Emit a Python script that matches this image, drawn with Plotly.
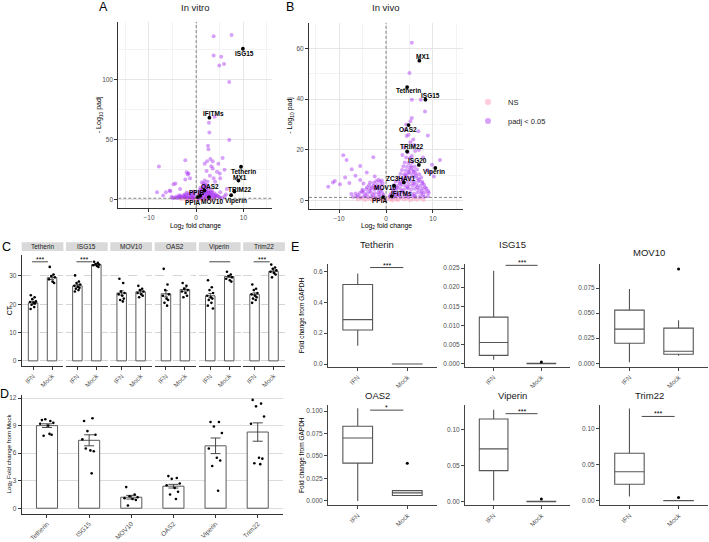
import plotly.graph_objects as go

W, H = 709, 542
FONT = "Liberation Sans, Arial, Helvetica, sans-serif"
TICKC = "#4D4D4D"
LINEC = "#333333"

# ---------------- Panel A (in vitro volcano) ----------------
A_SIG_PTS = [(3.7, 136), (7.5, 137), (3.7, 120), (5.3, 119), (5.9, 113), (4.9, 111.6), (7.0, 98),
             (7.0, 49.8), (2.7, 64), (2.8, 56), (3.9, 69), (2.5, 45), (2.6, 42), (5.6, 34.7), (4.7, 30),
             (3.5, 32), (2.3, 32), (-2.3, 33), (-7.9, 27.8), (-2.0, 23), (-1.8, 21), (-4.8, 13),
             (-8.3, 6.3), (-7.0, 3.6), (-5.6, 7.7), (-3.4, 9.1), (3.0, 34), (4.4, 23.4), (5.1, 18),
             (3.7, 18), (2.9, 20), (2.2, 24), (-1.6, 22), (-1.3, 18), (-2.3, 17), (-4.4, 13.5),
             (-5.5, 7.2), (-6.4, 6.3), (5.1, 6.3), (6.5, 9), (6.3, 4.5), (4.2, 4.5), (6.0, 25),
             (5.0, 22), (4.0, 15), (3.5, 26), (3.2, 28), (1.8, 30),
             (0.4, 2), (0.6, 4), (0.8, 6), (0.7, 8), (1.0, 1.5), (1.1, 3.5), (1.2, 5.5), (1.3, 7.5),
             (1.4, 9.5), (1.5, 11.5), (1.6, 13.5), (1.7, 2.5), (1.8, 4.5), (1.9, 6.5), (2.0, 8.5),
             (2.1, 10.5), (2.2, 12), (2.3, 1.8), (2.4, 3.8), (2.5, 5.8), (2.6, 7.8), (2.7, 9.8),
             (2.9, 2.5), (3.0, 4.5), (3.1, 6.5), (3.3, 8), (3.5, 2), (3.6, 4), (3.8, 5.5), (4.2, 2.5),
             (4.5, 3.5), (5.0, 2), (1.2, 14.5), (1.8, 16), (2.4, 15), (0.9, 10),
             (-0.4, 2), (-0.6, 3.5), (-0.9, 1.8), (-1.2, 3), (-1.5, 4.2), (-1.8, 2.2), (-2.1, 3.5),
             (-2.4, 2), (-2.7, 4), (-3.0, 2.5), (-3.4, 3.2), (-3.8, 2), (-4.2, 2.8), (-4.6, 1.8),
             (-1.0, 5.5), (-2.0, 6), (-0.3, 5), (-5.2, 2.5),
             (0.5, 1.2), (0.9, 2.8), (1.3, 4.2), (1.6, 6), (2.0, 3), (2.3, 5), (2.7, 3.2), (3.2, 3.5),
             (1.1, 8.5), (1.6, 10.5), (2.2, 7), (2.8, 6), (0.6, 5.5), (1.9, 12.5), (3.4, 5.8), (4.0, 3.2),
             (4.8, 2.6), (5.5, 1.8), (6.0, 2.8), (-0.7, 1.3), (-1.3, 1.9), (-1.9, 1.5), (-2.5, 2.8),
             (-3.2, 1.8), (-3.6, 3.8), (-0.8, 4.4), (-1.6, 5.2), (-2.3, 4.6), (-4.0, 1.5), (-5.0, 1.6),
             (-0.5, 7), (1.4, 1.2), (2.6, 1.3), (3.8, 1.5)]
A_NS_PTS = [(-3.2, 0.6), (-2.6, 0.9), (-2.0, 0.3), (-1.6, 0.8), (-1.1, 0.5), (-0.7, 1.0), (-0.3, 0.2),
            (0.2, 0.7), (0.6, 0.4), (1.0, 1.1), (1.4, 0.3), (1.9, 0.8), (2.4, 0.5), (2.9, 1.0),
            (3.3, 0.3), (-0.5, 0.6), (0.4, 1.2), (-1.4, 0.1), (1.2, 0.1)]
A_GENES = ["ISG15", "IFITMs", "Tetherin", "MX1", "TRIM22", "Viperin", "OAS2", "PPIB", "PPIA", "MOV10"]
A_GENE_X = [9.9, 2.8, 9.5, 8.95, 8.1, 7.4, 1.76, 0.85, 0.3, 2.7]
A_GENE_Y = [125.6, 68.3, 27.5, 16.0, 6.9, 3.9, 7.7, 3.3, 2.2, 2.2]
A_LABEL_OFF = [(1.3, 5), (4, -4), (2.7, 4.5), (1.7, -3.4), (6, -2.4), (4.8, 5.4), (5.2, -4.2),
               (-3.3, -3.2), (-5.6, 5.5), (3.5, 4.2)]

# ---------------- Panel B (in vivo volcano) ----------------
B_SIG_PTS = [(5.5, 62.2), (5.0, 50.3), (5.5, 39.8), (7.4, 39.8), (8.3, 35.2), (5.5, 32.6), (5.2, 31.3),
             (4.3, 30), (6.9, 27.4), (8.9, 25.7), (4.4, 25.5), (5.8, 24.1), (5.2, 23), (6.2, 19.6),
             (5.5, 17.6), (7.9, 17), (11.5, 16), (9.8, 14.2), (4.0, 28), (3.8, 21), (4.8, 26),
             (6.0, 22), (7.0, 20), (3.5, 18), (9.5, 11), (10.2, 9.5), (8.8, 12),
             (-9.1, 17.9), (-8.4, 16), (-2.7, 17.1), (-5.5, 13.7), (-7.3, 12.4), (-10.9, 7.8),
             (-9.8, 6.5), (-8.7, 9.1), (-4.1, 11.1), (-2.4, 9.5), (-5.5, 8.2), (-3.4, 7.2),
             (-11.3, 7.2), (-12.3, 5.5), (-7.8, 7.0), (-6.5, 9.8), (-4.8, 6.8),
             (0.8, 1.6), (1.5, 1.4), (2.3, 1.7), (3.1, 1.5), (3.9, 1.6), (4.8, 1.4), (5.6, 1.7), (6.3, 1.5),
             (7.2, 1.6), (8.1, 1.5), (8.9, 1.8), (1.1, 2.9), (1.9, 3.1), (2.6, 2.8), (3.5, 3.2), (4.3, 2.9),
             (5.1, 3.1), (5.9, 2.8), (6.7, 3.2), (7.5, 2.9), (8.3, 3.3), (9.1, 3.0), (1.4, 4.6), (2.2, 4.4),
             (3.0, 4.7), (3.8, 4.4), (4.6, 4.8), (5.4, 4.5), (6.2, 4.7), (7.0, 4.4), (7.8, 4.8), (8.6, 4.6),
             (1.7, 6.1), (2.5, 5.9), (3.3, 6.2), (4.1, 5.9), (4.9, 6.3), (5.7, 6.0), (6.5, 6.2), (7.3, 5.9),
             (8.1, 6.2), (2.1, 7.6), (2.9, 7.4), (3.7, 7.7), (4.5, 7.5), (5.3, 7.8), (6.1, 7.4), (6.9, 7.6),
             (7.7, 7.5), (2.7, 9.1), (3.5, 8.9), (4.3, 9.2), (5.1, 9.0), (5.9, 9.3), (6.7, 8.9), (7.5, 9.1),
             (3.1, 10.6), (3.9, 10.4), (4.7, 10.7), (5.5, 10.5), (6.3, 10.8), (7.1, 10.4), (3.4, 12.1),
             (4.2, 11.9), (5.0, 12.2), (5.8, 12.0), (6.6, 12.3), (3.7, 13.6), (4.5, 13.4), (5.3, 13.7),
             (6.1, 13.5), (4.0, 15.1), (4.8, 14.9), (5.6, 15.2), (4.3, 17.0), (5.1, 16.8), (4.6, 19.0),
             (-0.6, 1.5), (-1.4, 1.7), (-2.2, 1.4), (-3.0, 1.6), (-3.8, 1.5), (-4.6, 1.7), (-5.4, 1.4),
             (-6.2, 1.6), (-7.0, 1.5), (-0.8, 3.0), (-1.6, 3.2), (-2.4, 2.9), (-3.2, 3.1), (-4.0, 2.9),
             (-4.8, 3.2), (-5.6, 3.0), (-6.5, 2.8), (-0.9, 4.5), (-1.7, 4.7), (-2.5, 4.4), (-3.3, 4.6),
             (-4.2, 4.5), (-5.0, 4.3), (-1.1, 6.0), (-1.9, 6.2), (-2.7, 5.9), (-3.6, 6.1), (-1.3, 7.5),
             (-2.1, 7.7), (-0.7, 6.8),
             (0.9, 2.2), (1.6, 3.8), (2.3, 5.2), (3.0, 6.8), (3.6, 8.2), (4.2, 10), (4.9, 11.3), (5.4, 13),
             (5.9, 11.4), (6.4, 9.8), (7.1, 8.3), (7.8, 6.9), (8.4, 5.2), (9.0, 3.8), (2.0, 2.2), (3.4, 3.8),
             (4.6, 5.3), (5.8, 6.8), (6.7, 5.3), (7.6, 3.7), (2.8, 2.3), (4.5, 2.1), (6.1, 2.1), (7.9, 2.3),
             (-0.5, 2.3), (-1.2, 3.8), (-1.9, 5.3), (-2.6, 7.0), (-1.5, 2.4), (-2.8, 2.2), (-3.5, 3.8),
             (-4.4, 2.2), (-5.1, 3.7), (-6.0, 2.2), (-7.4, 2.6), (-2.3, 5.1), (-3.0, 5.2), (-1.6, 8.3),
             (-0.9, 8.0), (-4.0, 5.3)]
B_NS_PTS = [(-6.0, 0.5), (-5.2, 0.9), (-4.5, 0.3), (-3.8, 0.8), (-3.1, 0.4), (-2.5, 1.0), (-1.9, 0.6),
            (-1.3, 0.2), (-0.7, 0.9), (-0.2, 0.4), (0.3, 1.1), (0.8, 0.5), (1.4, 0.1), (2.0, 0.8),
            (2.6, 0.3), (3.2, 1.0), (3.9, 0.5), (4.5, 0.9), (5.2, 0.2), (5.9, 0.7), (6.6, 0.4),
            (7.3, 0.9), (8.0, 0.3), (-1.0, 0.5), (1.1, 0.7), (0.0, 0.2), (-2.2, 0.2), (2.3, 0.5)]
B_GENES = ["MX1", "Tetherin", "ISG15", "OAS2", "TRIM22", "ISG20", "Viperin", "ZC3HAV1", "MOV10",
           "IFITMs", "PPIA"]
B_GENE_X = [7.1, 4.5, 8.4, 4.8, 4.5, 7.0, 10.5, 3.8, 1.7, 1.2, -0.6]
B_GENE_Y = [55.2, 44.8, 39.8, 29.8, 19.4, 14.1, 12.9, 7.2, 5.9, 1.7, 1.45]
B_LABEL_OFF = [(3.4, -4), (1, 3.7), (5, -4), (-1, 4.3), (4.4, -5.3), (-1.3, -4.4), (-1, 4),
               (-3, -4.3), (-9, 1.6), (10, -3.3), (-3.3, 3.7)]

FC_CUTOFF = 0.0
PADJ_LINE = 1.30103  # -log10(0.05)
LEGEND_NAMES = ["NS", "padj < 0.05"]

# ---------------- Panel C (CT values) ----------------
C_GENES = ["Tetherin", "ISG15", "MOV10", "OAS2", "Viperin", "Trim22"]
C_GROUPS = ["IFN", "Mock"]
C_IFN_MEAN = [20.5, 26.5, 24.0, 23.7, 23.0, 23.5]
C_MOCK_MEAN = [29.4, 34.0, 24.4, 25.2, 29.8, 31.6]
C_IFN_SEM = [0.5, 0.5, 0.8, 1.1, 0.8, 0.5]
C_MOCK_SEM = [0.7, 0.3, 0.5, 0.6, 0.4, 0.5]
C_IFN_PTS = [[23.2, 22.5, 21.8, 21.0, 20.8, 20.5, 20.3, 19.8, 19.0, 18.3],
             [30.2, 28.0, 27.5, 27.0, 26.5, 26.2, 25.8, 25.5, 25.0, 24.5],
             [29.0, 27.5, 24.5, 24.0, 23.5, 23.0, 22.0, 21.5, 21.0],
             [32.5, 27.0, 25.0, 23.5, 23.0, 22.0, 21.5, 20.5, 19.5],
             [28.5, 26.0, 25.0, 24.0, 23.0, 22.5, 22.0, 21.5, 20.5, 19.5, 18.5],
             [27.0, 25.5, 25.0, 24.0, 23.5, 23.0, 22.5, 22.0, 21.5, 20.5]]
C_MOCK_PTS = [[33.2, 30.5, 30.0, 29.5, 28.8, 28.0, 27.5],
              [35.0, 34.6, 34.2, 34.0, 33.8, 33.5, 33.2],
              [26.5, 25.5, 25.0, 24.5, 24.0, 23.5, 23.0, 22.5],
              [27.5, 26.5, 25.5, 25.0, 24.5, 24.0, 23.0, 22.5],
              [31.5, 30.5, 30.0, 29.5, 29.0, 28.5, 28.0],
              [34.0, 33.0, 32.5, 32.0, 31.5, 31.0, 30.5, 29.5]]
C_SIG_LABEL = ["***", "***", None, None, "", "***"]
C_SIG_Y = 35.0
C_SIG_END = [1.78, 1.78, 1.78, 1.78, 2.05, 1.8]

# ---------------- Panel D (log2 fold change) ----------------
D_GENES = ["Tetherin", "ISG15", "MOV10", "OAS2", "Viperin", "Trim22"]
D_MEAN = [9.0, 7.4, 1.2, 2.4, 6.8, 8.3]
D_SEM = [0.2, 0.6, 0.2, 0.2, 0.85, 1.0]
D_PTS = [[9.6, 9.5, 9.7, 9.3, 9.2, 9.0, 8.0, 7.9, 8.1],
         [9.5, 9.8, 8.4, 8.0, 7.5, 6.3, 6.2, 6.5, 3.8],
         [2.3, 1.5, 1.3, 1.2, 1.1, 1.0, 0.9, 0.3],
         [3.5, 3.3, 3.2, 2.7, 2.5, 2.2, 1.8, 1.5, 1.0],
         [9.4, 9.4, 8.9, 8.2, 6.5, 5.5, 5.2, 4.6, 1.9],
         [11.8, 11.4, 11.1, 10.0, 9.2, 5.5, 5.4, 4.9, 4.8]]

# ---------------- Panel E (fold change from GAPDH, boxplots) ----------------
E_GENES = ["Tetherin", "ISG15", "MOV10", "OAS2", "Viperin", "Trim22"]
E_IFN_LO = [0.118, 0.0011, 0.001, 0.000, 0.002, 0.006]
E_IFN_Q1 = [0.221, 0.00225, 0.020, 0.042, 0.0434, 0.023]
E_IFN_MED = [0.288, 0.0056, 0.034, 0.070, 0.0737, 0.0405]
E_IFN_Q3 = [0.516, 0.0122, 0.053, 0.083, 0.1151, 0.066]
E_IFN_HI = [0.587, 0.0243, 0.074, 0.103, 0.128, 0.128]
E_MOCK_LO = [0.0, 0.00002, 0.0075, 0.0055, 0.0, 0.0]
E_MOCK_Q1 = [0.0002, 0.00006, 0.009, 0.006, 0.0002, 0.0002]
E_MOCK_MED = [0.0004, 0.0001, 0.012, 0.0089, 0.0004, 0.0004]
E_MOCK_Q3 = [0.0006, 0.00015, 0.035, 0.0115, 0.0007, 0.0007]
E_MOCK_HI = [0.001, 0.0002, 0.043, 0.0118, 0.001, 0.001]
E_MOCK_OUT = [[], [0.0005], [0.094], [0.042], [0.004], [0.0047]]
E_SIG = ["***", "***", None, "*", "***", "***"]
E_SIG_Y = [0.626, 0.0257, None, 0.101, 0.1225, 0.117]
E_RANGE = [[-0.019, 0.652], [-0.00078, 0.02617], [-0.0037, 0.0995],
           [-0.00476, 0.107], [-0.00456, 0.1349], [-0.0059, 0.1332]]
E_TICKS = [[0, 0.2, 0.4, 0.6], [0, 0.005, 0.01, 0.015, 0.02, 0.025], [0, 0.025, 0.05, 0.075],
           [0, 0.025, 0.05, 0.075, 0.1], [0, 0.05, 0.1], [0, 0.05, 0.1]]
E_FMT = [".1f", ".3f", ".3f", ".3f", ".2f", ".2f"]

# ================= helpers =================
def xdom(a, b):
    return [a / W, b / W]


def ydom(top, bottom):
    return [1 - bottom / H, 1 - top / H]


def tf(size=7, color=TICKC):
    return dict(family=FONT, size=size, color=color)


def ptext(x, y, text, size=7, color="black", angle=0):
    return dict(x=x / W, y=1 - y / H, xref="paper", yref="paper", text=text, showarrow=False,
                xanchor="center", yanchor="middle", textangle=angle,
                font=dict(family=FONT, size=size, color=color))


JITTER = [-0.12, 0.08, -0.04, 0.15, -0.16, 0.03, 0.11, -0.08, 0.06, -0.13, 0.14]

fig = go.Figure()
annotations = []
shapes = []
layout_axes = {}

# ================= A & B volcanoes =================
PURPLE = "rgba(160,32,240,0.42)"
PINK = "rgba(255,160,185,0.55)"


def volcano(idx, sig, ns, genes, gx, gy, offs, xr, yr, xd, yd, ydt, title, tx, letter, lx):
    xa, ya = ("x", "y") if idx == 1 else ("x%d" % idx, "y%d" % idx)
    fig.add_trace(go.Scatter(x=[p[0] for p in ns], y=[p[1] for p in ns], mode="markers",
                             marker=dict(color=PINK, size=4, line=dict(width=0)),
                             showlegend=False, xaxis=xa, yaxis=ya))
    fig.add_trace(go.Scatter(x=[p[0] for p in sig], y=[p[1] for p in sig], mode="markers",
                             marker=dict(color=PURPLE, size=4, line=dict(width=0)),
                             showlegend=False, xaxis=xa, yaxis=ya))
    fig.add_trace(go.Scatter(x=gx, y=gy, mode="markers", marker=dict(color="black", size=3.8),
                             showlegend=False, xaxis=xa, yaxis=ya))
    for g, x, y, (ox, oy) in zip(genes, gx, gy, offs):
        annotations.append(dict(x=x, y=y, xref=xa, yref=ya, text="<b>%s</b>" % g, showarrow=False,
                                xanchor="center", yanchor="middle", xshift=ox, yshift=-oy,
                                font=dict(family=FONT, size=6.5, color="black")))
    shapes.append(dict(type="line", xref=xa, yref=ya, x0=FC_CUTOFF, x1=FC_CUTOFF, y0=yr[0], y1=yr[1],
                       line=dict(color="#555555", width=0.7, dash="3px,2px")))
    shapes.append(dict(type="line", xref=xa, yref=ya, x0=xr[0], x1=xr[1], y0=PADJ_LINE, y1=PADJ_LINE,
                       line=dict(color="#555555", width=0.7, dash="3px,2px")))
    axcommon = dict(showgrid=True, gridcolor="#E6E6E6", gridwidth=0.8, zeroline=False, showline=True,
                    linecolor=LINEC, linewidth=1, ticks="outside", ticklen=3, tickcolor=LINEC,
                    tickfont=tf(6.5))
    kx = "xaxis" if idx == 1 else "xaxis%d" % idx
    ky = "yaxis" if idx == 1 else "yaxis%d" % idx
    layout_axes[kx] = dict(axcommon, domain=xdom(*xd), range=xr, anchor=ya, tick0=0, dtick=10,
                           minor=dict(dtick=5, tick0=0, showgrid=True, gridcolor="#F3F3F3", gridwidth=0.6))
    layout_axes[ky] = dict(axcommon, domain=ydom(*yd), range=yr, anchor=xa, tick0=0, dtick=ydt,
                           minor=dict(dtick=ydt / 2, tick0=0, showgrid=True, gridcolor="#F3F3F3",
                                      gridwidth=0.6))
    cx = (xd[0] + xd[1]) / 2
    annotations.append(ptext(tx, 7.5, title, 9.5, "#1A1A1A"))
    annotations.append(ptext(lx, 7.5, letter, 12.5))
    annotations.append(ptext(cx, 227, "Log<sub>2</sub> fold change", 6.8))
    annotations.append(ptext(xd[0] - 19, (yd[0] + yd[1]) / 2, "- Log<sub>10</sub> padj", 7, angle=-90))


volcano(1, A_SIG_PTS, A_NS_PTS, A_GENES, A_GENE_X, A_GENE_Y, A_LABEL_OFF, [-16.5, 16], [-6.9, 148.2],
        (118.3, 271.7), (21.7, 209.3), 50, "In vitro", 195.5, "A", 103)
volcano(2, B_SIG_PTS, B_NS_PTS, B_GENES, B_GENE_X, B_GENE_Y, B_LABEL_OFF, [-16.4, 16.4], [-3.2, 70.2],
        (309, 463), (22.7, 210), 20, "In vivo", 385, "B", 289.5)

# legend entries (keys only)
for name, col in zip(LEGEND_NAMES, [PINK, PURPLE]):
    fig.add_trace(go.Scatter(x=[None], y=[None], mode="markers", name=name,
                             marker=dict(color=col, size=6, line=dict(width=0)), showlegend=True,
                             xaxis="x2", yaxis="y2"))

# ================= C facets =================
BAR_LINE = dict(color="#595959", width=1)
for i, g in enumerate(C_GENES):
    n = 3 + i
    xa, ya = "x%d" % n, "y%d" % n
    x0 = 21.7 + i * 44.3
    x1 = x0 + 41.7
    fig.add_trace(go.Bar(x=[1, 2], y=[C_IFN_MEAN[i], C_MOCK_MEAN[i]], width=0.5,
                         marker=dict(color="white", line=BAR_LINE),
                         error_y=dict(type="data", array=[C_IFN_SEM[i], C_MOCK_SEM[i]], color="#333333",
                                      thickness=0.8, width=2),
                         showlegend=False, xaxis=xa, yaxis=ya))
    for grp_x, pts in ((1, C_IFN_PTS[i]), (2, C_MOCK_PTS[i])):
        fig.add_trace(go.Scatter(x=[grp_x + JITTER[k % len(JITTER)] for k in range(len(pts))], y=pts,
                                 mode="markers", marker=dict(color="black", size=2.6),
                                 showlegend=False, xaxis=xa, yaxis=ya))
    if C_SIG_LABEL[i] is not None:
        fig.add_trace(go.Scatter(x=[0.95, C_SIG_END[i]], y=[C_SIG_Y, C_SIG_Y], mode="lines",
                                 line=dict(color="#333333", width=0.9), showlegend=False,
                                 xaxis=xa, yaxis=ya))
        if C_SIG_LABEL[i]:
            annotations.append(dict(x=(0.95 + C_SIG_END[i]) / 2, y=C_SIG_Y, xref=xa, yref=ya,
                                    text=C_SIG_LABEL[i], showarrow=False, xanchor="center",
                                    yanchor="bottom", yshift=-3,
                                    font=dict(family=FONT, size=7, color="black")))
    layout_axes["xaxis%d" % n] = dict(domain=xdom(x0, x1), range=[0.4, 2.6], anchor=ya,
                                      tickvals=[1, 2], ticktext=C_GROUPS, tickangle=-45,
                                      showline=True, linecolor=LINEC, linewidth=1, ticks="outside",
                                      ticklen=3, tickcolor=LINEC, showgrid=False, zeroline=False,
                                      tickfont=tf(6.5))
    layout_axes["yaxis%d" % n] = dict(domain=ydom(256.7, 368), range=[-1.8, 37.3], anchor=xa,
                                      tick0=0, dtick=10, showgrid=True, gridcolor="#D4D4D4",
                                      griddash="dash", gridwidth=0.8, zeroline=False,
                                      showticklabels=(i == 0), showline=(i == 0), linecolor=LINEC,
                                      linewidth=1, ticks="outside" if i == 0 else "", ticklen=3,
                                      tickcolor=LINEC, tickfont=tf(6.5))
    shapes.append(dict(type="rect", xref="paper", yref="paper", x0=x0 / W, x1=x1 / W,
                       y0=1 - 252.5 / H, y1=1 - 243.5 / H, fillcolor="#D9D9D9", line=dict(width=0),
                       layer="below"))
    annotations.append(ptext((x0 + x1) / 2, 248, g, 6.5, "#1A1A1A"))

annotations.append(ptext(6, 248, "C", 12.5))
annotations.append(ptext(9, 312, "CT", 7, angle=-90))

# ================= D =================
D_X = list(range(1, len(D_GENES) + 1))
fig.add_trace(go.Bar(x=D_X, y=D_MEAN, width=0.5, marker=dict(color="white", line=BAR_LINE),
                     error_y=dict(type="data", array=D_SEM, color="#333333", thickness=0.9, width=5),
                     showlegend=False, xaxis="x9", yaxis="y9"))
for i, pts in enumerate(D_PTS):
    fig.add_trace(go.Scatter(x=[D_X[i] + JITTER[k % len(JITTER)] for k in range(len(pts))], y=pts,
                             mode="markers", marker=dict(color="black", size=2.6), showlegend=False,
                             xaxis="x9", yaxis="y9"))
layout_axes["xaxis9"] = dict(domain=xdom(21.7, 283), range=[0.4, 6.6], anchor="y9", tickvals=D_X,
                             ticktext=D_GENES, tickangle=-45, showline=True, linecolor=LINEC,
                             linewidth=1, ticks="outside", ticklen=3, tickcolor=LINEC, showgrid=False,
                             zeroline=False, tickfont=tf(6.5))
layout_axes["yaxis9"] = dict(domain=ydom(396.7, 516.5), range=[-0.59, 12.39], anchor="x9", tick0=0,
                             dtick=3, showgrid=True, gridcolor="#DCDCDC", gridwidth=0.9, zeroline=False,
                             showline=True, linecolor=LINEC, linewidth=1, ticks="outside", ticklen=3,
                             tickcolor=LINEC, tickfont=tf(6.5))
annotations.append(ptext(4, 396, "D", 12.5))
annotations.append(ptext(9, 456, "Log<sub>2</sub> Fold change from Mock", 6.2, angle=-90))

# ================= E boxplots =================
E_COLS = [(328, 437), (465, 570), (600, 708)]
E_ROWS = [(265, 369), (407, 508)]
E_TITLE_Y = [246, 246, 254, 398, 398, 398]
BOX_LINE = dict(color="#555555", width=1.1)
for i, g in enumerate(E_GENES):
    n = 10 + i
    xa, ya = "x%d" % n, "y%d" % n
    col = E_COLS[i % 3]
    row = E_ROWS[i // 3]
    fig.add_trace(go.Box(x=[1, 2], q1=[E_IFN_Q1[i], E_MOCK_Q1[i]], median=[E_IFN_MED[i], E_MOCK_MED[i]],
                         q3=[E_IFN_Q3[i], E_MOCK_Q3[i]], lowerfence=[E_IFN_LO[i], E_MOCK_LO[i]],
                         upperfence=[E_IFN_HI[i], E_MOCK_HI[i]], width=0.6, whiskerwidth=0,
                         fillcolor="white", line=BOX_LINE, boxpoints=False, showlegend=False,
                         xaxis=xa, yaxis=ya))
    if E_MOCK_OUT[i]:
        fig.add_trace(go.Scatter(x=[2] * len(E_MOCK_OUT[i]), y=E_MOCK_OUT[i], mode="markers",
                                 marker=dict(color="black", size=3), showlegend=False,
                                 xaxis=xa, yaxis=ya))
    if E_SIG[i]:
        fig.add_trace(go.Scatter(x=[1.25, 1.92], y=[E_SIG_Y[i], E_SIG_Y[i]], mode="lines",
                                 line=dict(color="#333333", width=0.9), showlegend=False,
                                 xaxis=xa, yaxis=ya, cliponaxis=False))
        annotations.append(dict(x=1.585, y=E_SIG_Y[i], xref=xa, yref=ya, text=E_SIG[i],
                                showarrow=False, xanchor="center", yanchor="bottom", yshift=-3,
                                font=dict(family=FONT, size=7, color="black")))
    layout_axes["xaxis%d" % n] = dict(domain=xdom(*col), range=[0.4, 2.6], anchor=ya,
                                      tickvals=[1, 2], ticktext=["IFN", "Mock"], tickangle=-45,
                                      showline=True, linecolor="#444444", linewidth=1.1,
                                      ticks="outside", ticklen=3, tickcolor="#444444",
                                      showgrid=False, zeroline=False, tickfont=tf(6.5))
    layout_axes["yaxis%d" % n] = dict(domain=ydom(*row), range=E_RANGE[i], anchor=xa,
                                      tickvals=E_TICKS[i], tickformat=E_FMT[i], showline=True,
                                      linecolor="#444444", linewidth=1.1, ticks="outside", ticklen=3,
                                      tickcolor="#444444", showgrid=False, zeroline=False,
                                      tickfont=tf(6.5))
    annotations.append(ptext((col[0] + col[1]) / 2 - 5, E_TITLE_Y[i], g, 9.5, "#1A1A1A"))

for row in E_ROWS:
    annotations.append(ptext(302, (row[0] + row[1]) / 2, "Fold change from GAPDH", 6.5, angle=-90))
annotations.append(ptext(295, 248, "E", 12.5))

fig.update_layout(
    width=W, height=H, margin=dict(l=0, r=0, t=0, b=0), paper_bgcolor="white", plot_bgcolor="white",
    font=dict(family=FONT, size=7, color="black"), annotations=annotations, shapes=shapes,
    legend=dict(x=468 / W, y=1 - 88 / H, xanchor="left", yanchor="top", bgcolor="rgba(0,0,0,0)",
                font=dict(family=FONT, size=7.5, color="#1A1A1A"), itemsizing="trace",
                tracegroupgap=0, itemwidth=30),
    **layout_axes
)
fig.write_html("out.html")
